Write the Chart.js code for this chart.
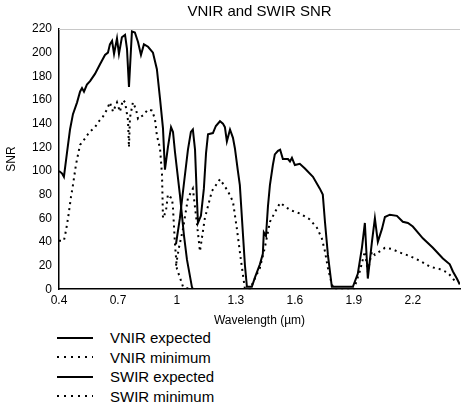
<!DOCTYPE html>
<html>
<head>
<meta charset="utf-8">
<script src="https://cdn.jsdelivr.net/npm/chart.js@4"></script>
<style>
  body { margin: 0; background: #fff; font-family: "Liberation Sans", Arial, sans-serif; }
  #wrap { position: relative; width: 461px; height: 404px; }
  #legend { position: absolute; left: 57px; top: 328px; }
  .row { display: flex; align-items: center; height: 19.5px; font-size: 15px; color: #000; }
  .sample { width: 36px; height: 2px; margin-right: 17px; }
</style>
</head>
<body>
<div id="wrap">
  <canvas id="snr" width="461" height="328" style="width:461px;height:328px"></canvas>
  <div id="legend"></div>
</div>
<script>
// wavelength (µm) and SNR
const vnirExpWl = [0.400, 0.415, 0.425, 0.441, 0.456, 0.471, 0.492, 0.507, 0.517, 0.527, 0.542, 0.558, 0.583, 0.608, 0.634, 0.649, 0.659, 0.670, 0.680, 0.695, 0.705, 0.720, 0.736, 0.746, 0.756, 0.771, 0.786, 0.802, 0.817, 0.832, 0.853, 0.878, 0.898, 0.914, 0.929, 0.939, 0.954, 0.970, 0.980, 0.990, 1.015, 1.036, 1.051, 1.076, 1.081];
const vnirExp   = [100, 98, 95, 116, 135, 148, 158, 167, 170, 167, 173, 176, 182, 190, 198, 200, 207, 210, 199, 212, 199, 213, 215, 203, 171, 218, 217, 209, 198, 207, 205, 200, 186, 161, 136, 101, 120, 137, 133, 116, 80, 45, 25, 2, 0];

const vnirMinWl = [0.400, 0.425, 0.436, 0.446, 0.461, 0.471, 0.486, 0.497, 0.507, 0.522, 0.547, 0.563, 0.583, 0.603, 0.624, 0.644, 0.659, 0.675, 0.695, 0.710, 0.725, 0.736, 0.746, 0.751, 0.756, 0.761, 0.776, 0.792, 0.802, 0.827, 0.853, 0.873, 0.888, 0.898, 0.914, 0.924, 0.929, 0.944, 0.954, 0.964, 0.975, 0.980, 0.990, 1.000, 1.015, 1.031, 1.066];
const vnirMin   = [41, 41, 50, 60, 78, 88, 105, 114, 122, 125, 131, 134, 137, 142, 146, 152, 158, 150, 158, 150, 160, 158, 148, 143, 120, 145, 158, 152, 144, 147, 152, 151, 144, 130, 119, 97, 60, 66, 80, 78, 77, 68, 38, 17, 10, 2, 0];

const swirExpWl = [0.995, 1.015, 1.036, 1.056, 1.071, 1.081, 1.092, 1.102, 1.107, 1.122, 1.137, 1.148, 1.158, 1.183, 1.198, 1.219, 1.234, 1.244, 1.254, 1.270, 1.285, 1.295, 1.310, 1.320, 1.336, 1.346, 1.356, 1.381, 1.397, 1.422, 1.437, 1.442, 1.453, 1.463, 1.473, 1.488, 1.498, 1.514, 1.525, 1.539, 1.565, 1.575, 1.585, 1.600, 1.625, 1.651, 1.692, 1.727, 1.742, 1.753, 1.768, 1.788, 1.895, 1.920, 1.941, 1.956, 1.971, 1.992, 2.007, 2.022, 2.043, 2.058, 2.083, 2.119, 2.149, 2.175, 2.200, 2.251, 2.302, 2.353, 2.388, 2.404, 2.424, 2.439];
const swirExp   = [38, 60, 90, 118, 133, 135, 118, 75, 56, 62, 85, 115, 131, 132, 138, 142, 140, 137, 125, 135, 128, 119, 100, 88, 46, 20, 2, 2, 10, 21, 30, 48, 45, 70, 88, 105, 114, 117, 118, 110, 110, 108, 111, 105, 106, 102, 95, 85, 80, 57, 29, 2, 2, 13, 35, 56, 9, 40, 60, 40, 51, 61, 63, 62, 57, 56, 53, 43, 35, 26, 21, 15, 9, 4];

const swirMinWl = [0.995, 1.010, 1.031, 1.056, 1.081, 1.102, 1.117, 1.142, 1.178, 1.219, 1.259, 1.285, 1.305, 1.326, 1.346, 1.371, 1.422, 1.447, 1.473, 1.508, 1.525, 1.575, 1.625, 1.676, 1.712, 1.737, 1.753, 1.768, 1.788, 1.800, 1.900, 1.930, 1.956, 1.971, 1.992, 2.007, 2.032, 2.058, 2.093, 2.134, 2.185, 2.236, 2.287, 2.337, 2.378, 2.404, 2.424];
const swirMin   = [20, 35, 51, 77, 85, 55, 32, 60, 83, 93, 83, 74, 51, 24, 0, 0, 18, 35, 57, 68, 73, 67, 64, 59, 52, 43, 32, 18, 4, 0, 0, 15, 32, 15, 32, 29, 32, 35, 34, 31, 28, 24, 19, 17, 14, 9, 5];

const xTicks = [0.4, 0.7, 1, 1.3, 1.6, 1.9, 2.2];
const seriesNames = ['VNIR expected', 'VNIR minimum', 'SWIR expected', 'SWIR minimum'];

const pts = (xs, ys) => xs.map((x, i) => ({x: x, y: ys[i]}));
const solid = [];
const dotted = [2, 4];

const ctx = document.getElementById('snr');

const topLine = {
  id: 'topLine',
  afterDraw(chart) {
    const a = chart.chartArea, c = chart.ctx;
    c.save();
    c.strokeStyle = '#c8c8c8';
    c.lineWidth = 1;
    c.beginPath();
    c.moveTo(a.left, a.top + 0.5);
    c.lineTo(a.right, a.top + 0.5);
    c.stroke();
    c.restore();
  }
};

const line = (label, data, dash) => ({
  label: label, data: data, borderDash: dash,
  borderColor: '#000', backgroundColor: '#000',
  borderWidth: 2, pointRadius: 0, tension: 0, fill: false
});

const chart = new Chart(ctx, {
  type: 'line',
  data: {
    datasets: [
      line(seriesNames[0], pts(vnirExpWl, vnirExp), solid),
      line(seriesNames[1], pts(vnirMinWl, vnirMin), dotted),
      line(seriesNames[2], pts(swirExpWl, swirExp), solid),
      line(seriesNames[3], pts(swirMinWl, swirMin), dotted)
    ]
  },
  options: {
    responsive: false,
    animation: false,
    layout: { padding: { left: 0, right: 1, top: 0, bottom: 0 } },
    plugins: {
      colors: { enabled: false },
      legend: { display: false },
      tooltip: { enabled: false },
      title: {
        display: true,
        text: 'VNIR and SWIR SNR',
        fullSize: false,
        color: '#000',
        font: { family: 'Liberation Sans', size: 15, weight: 'normal' },
        padding: { top: 3, bottom: 8 }
      }
    },
    scales: {
      x: {
        type: 'linear',
        min: 0.4,
        max: 2.44,
        afterBuildTicks: s => { s.ticks = xTicks.map(v => ({value: v})); },
        grid: { display: false, drawTicks: false },
        border: { display: true, color: '#000', width: 1.5 },
        ticks: { color: '#000', padding: 4, maxRotation: 0, font: { family: 'Liberation Sans', size: 12 },
                 callback: v => String(v) },
        title: { display: true, text: 'Wavelength (µm)', color: '#000', padding: { top: 2, bottom: 0 },
                 font: { family: 'Liberation Sans', size: 12 } }
      },
      y: {
        min: 0,
        max: 220,
        afterFit: s => { s.width = 59; },
        grid: { display: false, drawTicks: false },
        border: { display: true, color: '#000', width: 1.5 },
        ticks: { stepSize: 20, color: '#000', padding: 7, font: { family: 'Liberation Sans', size: 12 } },
        title: { display: true, text: 'SNR', color: '#000', padding: { top: 4, bottom: 0 },
                 font: { family: 'Liberation Sans', size: 12 } }
      }
    }
  },
  plugins: [topLine]
});

// legend as a vertical list under the chart
const legend = document.getElementById('legend');
chart.data.datasets.forEach(ds => {
  const row = document.createElement('div');
  row.className = 'row';
  const s = document.createElement('span');
  s.className = 'sample';
  s.style.background = ds.borderDash.length
    ? 'repeating-linear-gradient(to right, #000 0 2px, transparent 2px 7px)'
    : '#000';
  const t = document.createElement('span');
  t.textContent = ds.label;
  row.appendChild(s);
  row.appendChild(t);
  legend.appendChild(row);
});
</script>
</body>
</html>
